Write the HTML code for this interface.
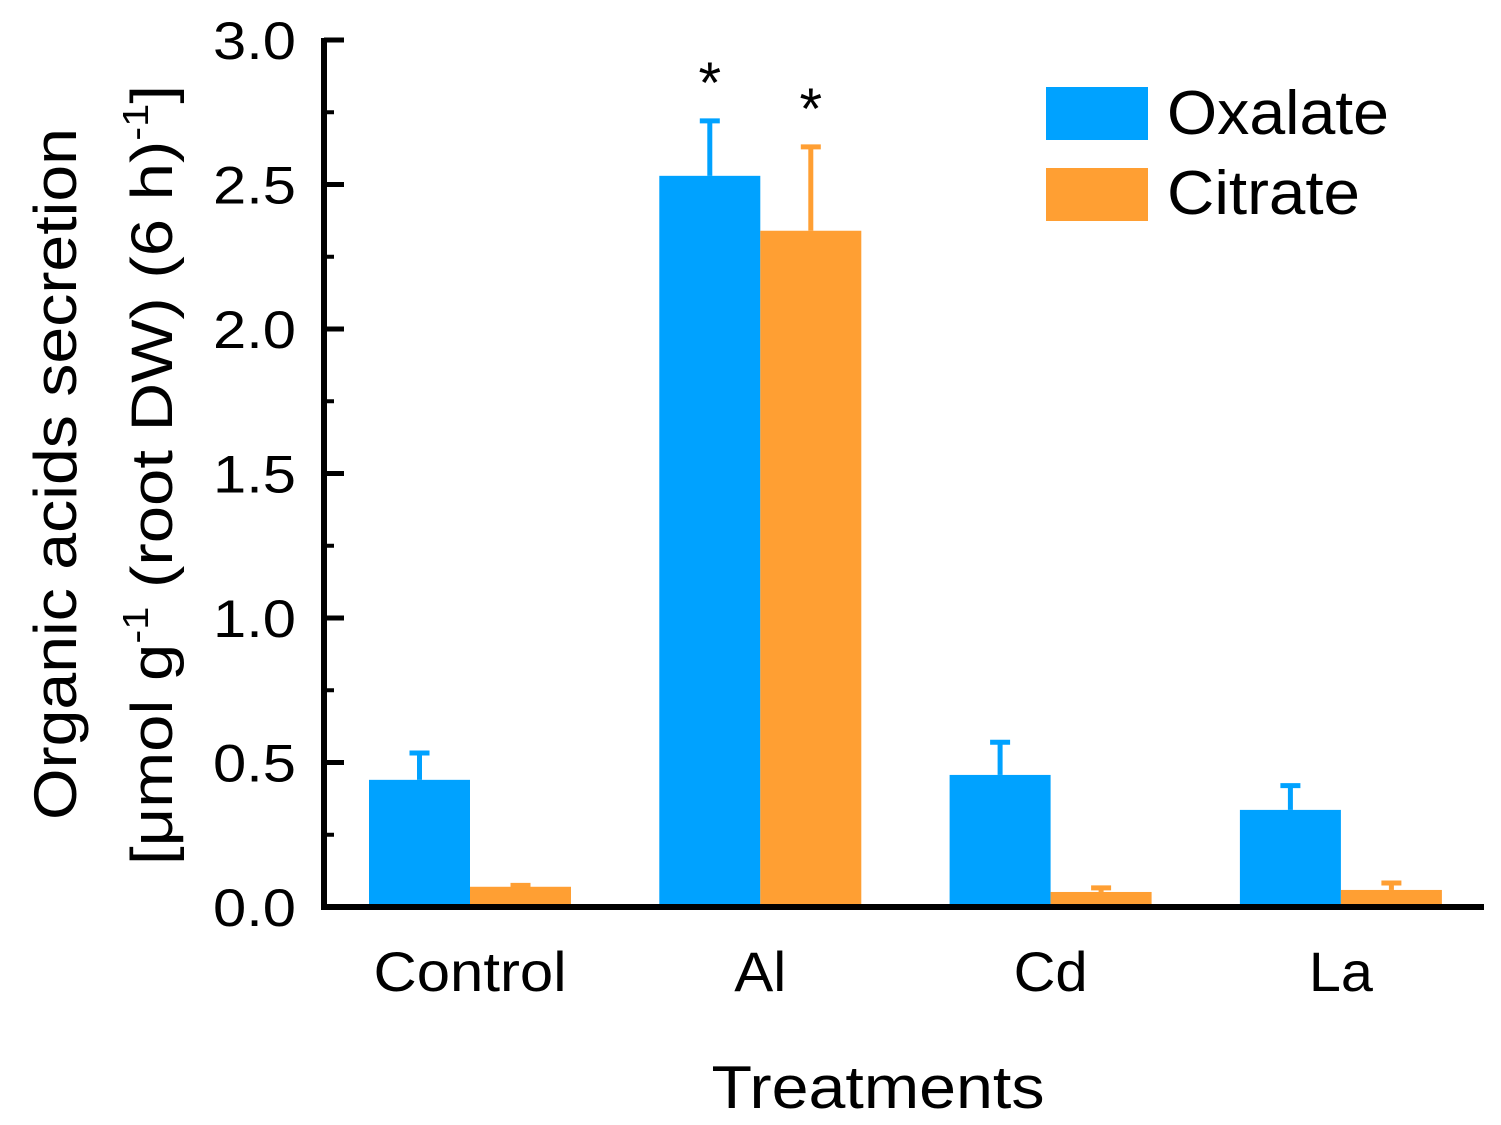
<!DOCTYPE html>
<html><head><meta charset="utf-8"><style>
html,body{margin:0;padding:0;background:#fff}
svg{display:block;font-family:"Liberation Sans",sans-serif}
</style></head><body>
<svg id="chart" width="1501" height="1125" viewBox="0 0 1501 1125"></svg>
<script>
const categories=["Control","Al","Cd","La"];
const oxalate=[0.44,2.53,0.457,0.336];
const oxalateErr=[0.093,0.19,0.113,0.084];
const citrate=[0.07,2.34,0.052,0.059];
const citrateErr=[0.005,0.29,0.014,0.024];
const oxalateSig=["","*","",""];
const citrateSig=["","*","",""];
const yTicks=[0,0.5,1.0,1.5,2.0,2.5,3.0];
const yTickLabels=["0.0","0.5","1.0","1.5","2.0","2.5","3.0"];
const catLabelWidths=[193,52,74,64];

const NS="http://www.w3.org/2000/svg";
const svg=document.getElementById('chart');
const y0=907,yTop=40,vMax=3;
const Y=v=>y0-(v/vMax)*(y0-yTop);
const X=i=>470+i*290.3;
const barW=101;
function el(t,a,p){const e=document.createElementNS(NS,t);for(const k in a)e.setAttribute(k,a[k]);(p||svg).appendChild(e);return e;}
const blue="#00A2FF",orange="#FF9F33";

categories.forEach((c,i)=>{
  const cx=X(i);
  [[oxalate,oxalateErr,oxalateSig,blue,cx-barW,'oxalate'],[citrate,citrateErr,citrateSig,orange,cx,'citrate']].forEach(([vals,errs,sig,col,x,nm])=>{
    const v=vals[i],e=errs[i];
    const r=el('rect',{x:x,y:Y(v),width:barW,height:y0-Y(v),fill:col});
    
    
    const mx=x+barW/2;
    const g=el('g',{stroke:col,'stroke-width':5});
    
    
    el('line',{x1:mx,x2:mx,y1:Y(v),y2:Y(v+e)},g);
    el('line',{x1:mx-10,x2:mx+10,y1:Y(v+e),y2:Y(v+e)},g);
    if(sig[i]){
      const t=el('text',{x:mx,y:Y(v+e)-18,'text-anchor':'middle','font-size':58,fill:'#000'});
      t.textContent=sig[i];
      
      
    }
  });
  const t=el('text',{x:cx,y:991,'text-anchor':'middle','font-size':56,fill:'#000',textLength:catLabelWidths[i],lengthAdjust:'spacingAndGlyphs'});
  t.textContent=c;
  
  
});

const ax=el('g',{stroke:'#000'});


el('line',{x1:324,x2:324,y1:38,y2:910,'stroke-width':6},ax);
el('line',{x1:321,x2:1484,y1:907,y2:907,'stroke-width':6},ax);
yTicks.forEach((v,k)=>{
  el('line',{x1:324,x2:344,y1:Y(v),y2:Y(v),'stroke-width':5},ax);
  if(k<yTicks.length-1){const m=(v+yTicks[k+1])/2;el('line',{x1:324,x2:334,y1:Y(m),y2:Y(m),'stroke-width':4},ax);}
  const t=el('text',{x:296,y:Y(v)+19,'text-anchor':'end','font-size':53,fill:'#000',textLength:83,lengthAdjust:'spacingAndGlyphs'});
  t.textContent=yTickLabels[k];
  
  
});
</script>
<svg style="position:absolute;left:0;top:0" width="1501" height="1125">
<g font-family="Liberation Sans, sans-serif" fill="#000">
<text x="878" y="1108" text-anchor="middle" font-size="60" textLength="333" lengthAdjust="spacingAndGlyphs">Treatments</text>
<text transform="translate(76,474) rotate(-90)" text-anchor="middle" font-size="60" textLength="692" lengthAdjust="spacingAndGlyphs">Organic acids secretion</text>
<text transform="translate(172,475) rotate(-90)" text-anchor="middle" font-size="58" textLength="780" lengthAdjust="spacingAndGlyphs">[μmol g<tspan dy="-24" font-size="36">-1</tspan><tspan dy="24"> (root DW) (6 h)</tspan><tspan dy="-24" font-size="36">-1</tspan><tspan dy="24">]</tspan></text>
<g>
<rect x="1046" y="87" width="102" height="53" fill="#00A2FF"/>
<text x="1167" y="134" font-size="62" textLength="222" lengthAdjust="spacingAndGlyphs">Oxalate</text>
<rect x="1046" y="168" width="102" height="53" fill="#FF9F33"/>
<text x="1167" y="214" font-size="62" textLength="193" lengthAdjust="spacingAndGlyphs">Citrate</text>
</g>
</g>
</svg>
</body></html>
